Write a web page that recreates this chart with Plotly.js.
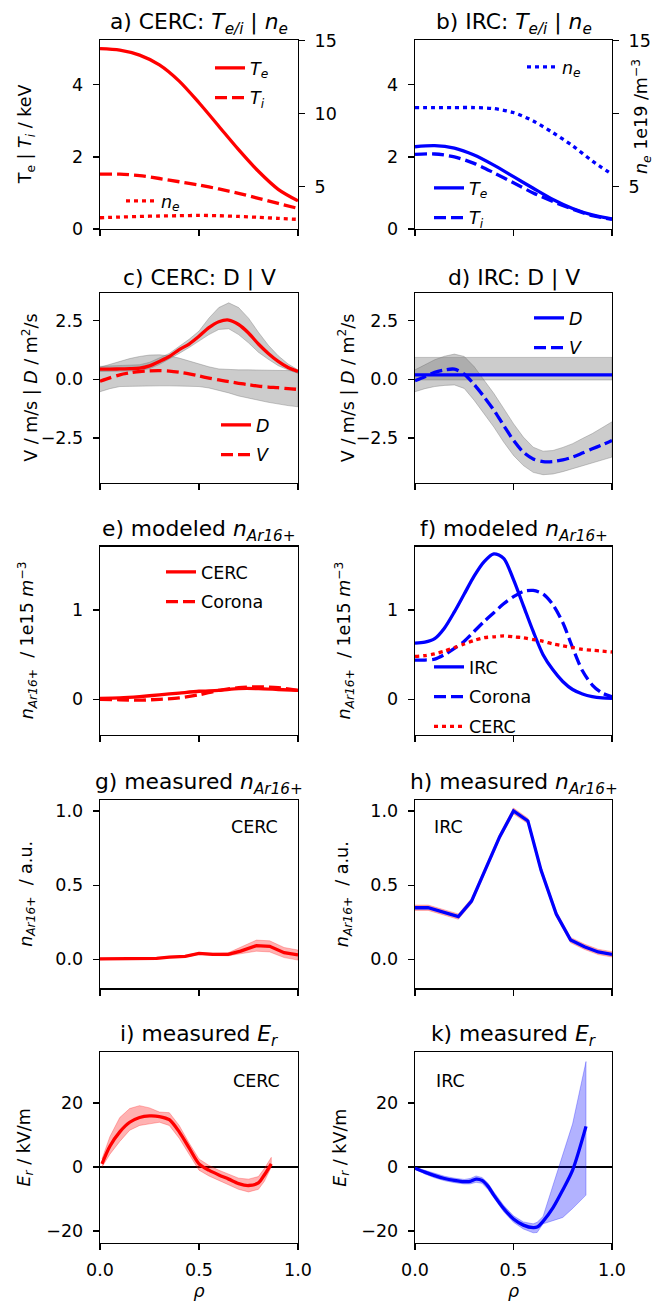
<!DOCTYPE html>
<html>
<head>
<meta charset="utf-8">
<script src="https://cdn.plot.ly/plotly-3.0.1.min.js"></script>
<style>html,body{margin:0;padding:0;background:#fff;}#plot{width:656px;height:1301px;}</style>
</head>
<body>
<div id="plot"></div>
<script>
// ---------------- data ----------------
const rhoA = [0,0.1,0.2,0.3,0.4,0.5,0.6,0.7,0.8,0.9,1.0];
const teCERC = [5.0,4.96,4.82,4.55,4.1,3.5,2.85,2.2,1.6,1.1,0.78];
const tiCERC = [1.52,1.52,1.48,1.40,1.31,1.22,1.11,0.99,0.85,0.71,0.57];
const neCERC = [2.87,2.92,2.96,2.99,3.01,3.03,3.01,2.96,2.90,2.83,2.76];
const teIRC = [2.28,2.31,2.24,2.05,1.77,1.45,1.13,0.82,0.57,0.39,0.28];
const tiIRC = [2.07,2.08,2.0,1.82,1.56,1.28,1.0,0.76,0.55,0.37,0.27];
const neIRC = [10.42,10.42,10.42,10.42,10.35,10.08,9.5,8.7,7.8,6.76,5.85];

const rhoDV = [0,0.05,0.1,0.15,0.2,0.25,0.3,0.35,0.4,0.45,0.5,0.55,0.6,0.65,0.7,0.75,0.8,0.85,0.9,0.95,1.0];
const dCERC   = [0.43,0.43,0.44,0.45,0.47,0.57,0.76,0.97,1.26,1.5,1.83,2.2,2.45,2.52,2.33,1.97,1.5,1.1,0.76,0.5,0.33];
const dCERCup = [0.55,0.56,0.58,0.6,0.62,0.72,0.9,1.1,1.4,1.7,2.05,2.6,3.05,3.25,3.05,2.6,2.0,1.45,1.0,0.65,0.4];
const dCERClo = [0.33,0.33,0.34,0.35,0.37,0.45,0.63,0.85,1.1,1.35,1.62,1.9,2.12,2.15,1.9,1.55,1.15,0.85,0.58,0.4,0.25];
const vCERC   = [-0.08,0.06,0.19,0.27,0.33,0.36,0.37,0.35,0.3,0.23,0.14,0.05,-0.03,-0.1,-0.17,-0.23,-0.29,-0.33,-0.36,-0.4,-0.43];
const vCERCup = [0.51,0.64,0.76,0.88,0.97,1.03,1.04,1.0,0.9,0.77,0.64,0.53,0.44,0.41,0.4,0.4,0.4,0.39,0.38,0.37,0.36];
const vCERClo = [-0.53,-0.4,-0.31,-0.29,-0.28,-0.28,-0.28,-0.28,-0.28,-0.29,-0.31,-0.37,-0.46,-0.58,-0.71,-0.8,-0.89,-0.98,-1.06,-1.12,-1.17];
const rhoDconst = [0,1];
const dIRC   = [0.19,0.19];
const dIRCup = [0.93,0.93];
const dIRClo = [-0.03,-0.03];
const vIRC   = [-0.06,0.11,0.3,0.4,0.43,0.22,-0.22,-0.74,-1.31,-1.96,-2.6,-3.1,-3.39,-3.5,-3.5,-3.43,-3.31,-3.14,-2.96,-2.79,-2.6];
const vIRCup = [0.4,0.62,0.83,0.98,1.07,0.97,0.54,-0.03,-0.6,-1.24,-1.89,-2.46,-2.89,-3.06,-3.03,-2.9,-2.74,-2.52,-2.31,-2.06,-1.81];
const vIRClo = [-0.53,-0.4,-0.31,-0.26,-0.24,-0.39,-0.89,-1.46,-2.03,-2.67,-3.24,-3.67,-3.96,-4.06,-4.03,-3.93,-3.81,-3.69,-3.57,-3.44,-3.31];

const modCERC_e   = [0.01,0.015,0.03,0.05,0.07,0.09,0.1,0.12,0.12,0.11,0.1];
const modCorona_e = [0.0,-0.005,-0.01,0.0,0.015,0.05,0.1,0.13,0.14,0.13,0.1];
const modIRC_f    = [0.63,0.64,0.68,0.8,0.98,1.18,1.38,1.54,1.63,1.58,1.34,1.05,0.76,0.5,0.33,0.2,0.11,0.06,0.03,0.015,0.01];
const modCorona_f = [0.44,0.44,0.45,0.5,0.57,0.65,0.76,0.87,0.97,1.07,1.15,1.21,1.22,1.18,1.06,0.86,0.58,0.32,0.16,0.07,0.03];
const modCERC_f   = [0.48,0.49,0.51,0.54,0.58,0.62,0.66,0.69,0.7,0.71,0.7,0.69,0.67,0.65,0.62,0.6,0.58,0.56,0.55,0.54,0.53];

const rhoMeasG = [0,0.067,0.134,0.2,0.286,0.35,0.43,0.5,0.57,0.647,0.71,0.79,0.857,0.93,1.0];
const measCERC   = [0.003,0.003,0.007,0.007,0.007,0.015,0.02,0.04,0.034,0.034,0.056,0.092,0.088,0.045,0.03];
const measCERCup = [0.008,0.008,0.012,0.012,0.012,0.02,0.026,0.046,0.042,0.044,0.08,0.13,0.125,0.08,0.063];
const measCERClo = [-0.002,-0.002,0.002,0.002,0.002,0.01,0.014,0.034,0.026,0.024,0.035,0.055,0.05,0.012,-0.005];
const rhoMeasH = [0,0.067,0.22,0.287,0.43,0.5,0.573,0.64,0.717,0.79,0.86,0.93,1.0];
const measIRC   = [0.348,0.348,0.288,0.393,0.827,1.0,0.933,0.6,0.306,0.13,0.085,0.05,0.034];
const measIRCup = [0.366,0.366,0.306,0.411,0.845,1.02,0.951,0.618,0.324,0.148,0.103,0.068,0.052];
const measIRClo = [0.330,0.330,0.270,0.375,0.809,0.98,0.915,0.582,0.288,0.112,0.067,0.032,0.016];

const rhoErC = [0.01,0.05,0.1,0.15,0.2,0.25,0.3,0.35,0.4,0.45,0.5,0.55,0.6,0.65,0.7,0.75,0.8,0.83,0.865];
const erCERC   = [1.0,6.5,11.0,14.0,15.5,16.0,15.8,14.8,11.0,6.0,1.0,-1.0,-2.5,-3.8,-5.2,-5.8,-5.0,-2.5,1.0];
const erCERCup = [2.5,9.5,15.5,18.3,19.2,18.5,17.2,17.0,13.0,7.5,2.5,0.5,-1.0,-2.3,-3.5,-3.8,-3.0,-0.5,3.0];
const erCERClo = [0.0,4.0,8.0,11.5,13.0,13.5,14.0,13.0,9.0,4.0,-1.0,-2.8,-4.2,-5.5,-7.0,-7.8,-7.0,-4.5,0.0];
const rhoErI = [0,0.05,0.1,0.15,0.2,0.25,0.28,0.31,0.34,0.37,0.4,0.45,0.5,0.55,0.6,0.62,0.65,0.7,0.75,0.8,0.868];
const erIRC   = [-0.4,-1.6,-2.7,-3.6,-4.2,-4.6,-4.5,-3.8,-4.2,-6.0,-8.8,-13.0,-16.3,-18.2,-19.0,-18.8,-17.0,-12.8,-7.2,-1.0,12.7];
const erIRCup = [-0.1,-1.0,-2.0,-2.9,-3.5,-3.9,-3.6,-2.8,-3.3,-5.0,-7.8,-12.0,-15.3,-17.2,-17.8,-17.3,-15.5,-6.0,3.5,13.5,33.0];
const erIRClo = [-0.7,-2.2,-3.4,-4.3,-4.9,-5.3,-5.3,-4.8,-5.1,-7.0,-9.8,-14.0,-17.3,-19.4,-20.6,-20.5,-17.8,-16.8,-15.8,-13.0,-8.8];

const xTickVals = [0,0.5,1];
const xTickText = ['0.0','0.5','1.0'];
const yTickVals = [[0,2,4],[-2.5,0,2.5],[0,1],[0,0.5,1],[-20,0,20]];
const yTickText = [['0','2','4'],['\u22122.5','0.0','2.5'],['0','1'],['0.0','0.5','1.0'],['\u221220','0','20']];
const neTickVals = [5,10,15];
const neTickTextA = ['5','10','15'];
const neTickTextB = ['5','','15'];

const titles = [
 'a) CERC: <i>T<sub>e/i</sub></i> | <i>n<sub>e</sub></i>',
 'b) IRC: <i>T<sub>e/i</sub></i> | <i>n<sub>e</sub></i>',
 'c) CERC: D | V','d) IRC: D | V',
 'e) modeled <i>n<sub>Ar16+</sub></i>','f) modeled <i>n<sub>Ar16+</sub></i>',
 'g) measured <i>n<sub>Ar16+</sub></i>','h) measured <i>n<sub>Ar16+</sub></i>',
 'i) measured <i>E<sub>r</sub></i>','k) measured <i>E<sub>r</sub></i>'];
const yLabels = [
 'T<sub>e</sub> | <i>T<sub>i</sub></i> / keV', null,
 'V / m/s | <i>D</i> / m<sup>2</sup>/s','V / m/s | <i>D</i> / m<sup>2</sup>/s',
 '<i>n<sub>Ar16+</sub></i>  / 1e15 <i>m</i><sup>\u22123</sup>','<i>n<sub>Ar16+</sub></i>  / 1e15 <i>m</i><sup>\u22123</sup>',
 '<i>n<sub>Ar16+</sub></i>  / a.u.','<i>n<sub>Ar16+</sub></i>  / a.u.',
 '<i>E<sub>r</sub></i> / kV/m','<i>E<sub>r</sub></i> / kV/m'];
const neLabel = '<i>n<sub>e</sub></i> 1e19 /m<sup>\u22123</sup>';

// ---------------- geometry ----------------
const W = 656, H = 1301;
const FONT = 'DejaVu Sans';
const FS = 17.5;
const px = v => v / W, py = v => 1 - v / H;
const colX = [[100, 298], [415, 612]];
const rowY = [[40, 229], [293, 482.7], [546.7, 735], [800, 988.3], [1052.3, 1242.7]];
const yRanges = [[0, 5.24], [-4.4, 3.67], [-0.4, 1.71], [-0.195, 1.074], [-23.7, 35.9]];
const yLabelX = [26.7, null, 30, 346.3, 27.5, 344.7, 26.7, 343, 25, 341.3];

const RED = '#ff0000', BLUE = '#0000ff';
const LW = 3.3;
const DASH = '12px,5px';
const DOT = '4px,4px';

const layout = {
  width: W, height: H, margin: {l: 0, r: 0, t: 0, b: 0},
  paper_bgcolor: '#fff', plot_bgcolor: 'rgba(0,0,0,0)',
  font: {family: FONT, size: FS, color: '#000'},
  showlegend: true,
  annotations: []
};

for (let i = 0; i < 10; i++) {
  const r = Math.floor(i / 2), c = i % 2;
  const xn = i === 0 ? 'xaxis' : 'xaxis' + (i + 1);
  const yn = i === 0 ? 'yaxis' : 'yaxis' + (i + 1);
  const xid = i === 0 ? 'x' : 'x' + (i + 1);
  const yid = i === 0 ? 'y' : 'y' + (i + 1);
  layout[xn] = {
    domain: [px(colX[c][0]), px(colX[c][1])], anchor: yid, range: [0, 1],
    tickmode: 'array', tickvals: xTickVals, ticktext: xTickText,
    showticklabels: r === 4, ticks: 'outside', ticklen: 6, tickwidth: 1.3, tickcolor: '#000',
    ticklabelstandoff: 5,
    showline: true, mirror: true, linecolor: '#000', linewidth: 1.3,
    showgrid: false, zeroline: false, fixedrange: true,
    tickfont: {family: FONT, size: FS, color: '#000'}
  };
  if (r === 4) layout[xn].title = {text: '<i>ρ</i>', font: {family: FONT, size: FS}, standoff: 6};
  layout[yn] = {
    domain: [py(rowY[r][1]), py(rowY[r][0])], anchor: xid, range: yRanges[r],
    tickmode: 'array', tickvals: yTickVals[r], ticktext: yTickText[r],
    ticks: 'outside', ticklen: 6, tickwidth: 1.3, tickcolor: '#000',
    ticklabelstandoff: 6,
    showline: true, mirror: true, linecolor: '#000', linewidth: 1.3,
    showgrid: false, zeroline: r === 4, zerolinecolor: '#000', zerolinewidth: 2.6,
    fixedrange: true, tickfont: {family: FONT, size: FS, color: '#000'}
  };
  // subplot title
  layout.annotations.push({
    text: titles[i], xref: 'paper', yref: 'paper',
    x: px((colX[c][0] + colX[c][1]) / 2), y: py(rowY[r][0]),
    xanchor: 'center', yanchor: 'bottom', yshift: 0, showarrow: false,
    font: {family: FONT, size: 21.8, color: '#000'}
  });
  if (yLabels[i]) {
    layout.annotations.push({
      text: yLabels[i], xref: 'paper', yref: 'paper',
      x: px(yLabelX[i]), y: py((rowY[r][0] + rowY[r][1]) / 2),
      xanchor: 'center', yanchor: 'middle', textangle: -90, showarrow: false,
      font: {family: FONT, size: FS, color: '#000'}
    });
  }
}
// twin density axes
['yaxis11', 'yaxis12'].forEach((nm, k) => {
  layout[nm] = {
    overlaying: k === 0 ? 'y' : 'y2', anchor: k === 0 ? 'x' : 'x2', side: 'right',
    range: [2.1, 15.05], tickmode: 'array', tickvals: neTickVals,
    ticktext: k === 0 ? neTickTextA : neTickTextB,
    ticks: 'outside', ticklen: 6, tickwidth: 1.3, tickcolor: '#000',
    ticklabelstandoff: 6,
    showline: false, showgrid: false, zeroline: false, fixedrange: true,
    tickfont: {family: FONT, size: FS, color: '#000'}
  };
});
layout.annotations.push({
  text: neLabel, xref: 'paper', yref: 'paper', x: px(641.5), y: py(116.5),
  xanchor: 'center', yanchor: 'middle', textangle: -90, showarrow: false,
  font: {family: FONT, size: FS, color: '#000'}
});
// in-panel labels
[['CERC', 254, 826.7], ['IRC', 448, 826.7], ['CERC', 256.7, 1081], ['IRC', 450, 1081]].forEach(t => {
  layout.annotations.push({
    text: t[0], xref: 'paper', yref: 'paper', x: px(t[1]), y: py(t[2]),
    xanchor: 'center', yanchor: 'middle', showarrow: false,
    font: {family: FONT, size: FS, color: '#000'}
  });
});

// legends
const legPos = {
  legend: [210, 50], legend2: [121, 183], legend3: [522, 49], legend4: [429, 170],
  legend5: [216, 407], legend6: [529, 300], legend7: [161, 554], legend8: [429, 649]
};
Object.keys(legPos).forEach(k => {
  layout[k] = {
    x: px(legPos[k][0]), y: py(legPos[k][1]), xref: 'paper', yref: 'paper',
    xanchor: 'left', yanchor: 'top', bgcolor: 'rgba(0,0,0,0)', borderwidth: 0,
    font: {family: FONT, size: FS, color: '#000'}, traceorder: 'grouped', tracegroupgap: 4,
    itemclick: false, itemdoubleclick: false
  };
});

// ---------------- traces ----------------
const traces = [];
function line(x, y, xa, ya, color, dash, name, leg, shape) {
  traces.push({
    type: 'scatter', mode: 'lines', x: x, y: y, xaxis: xa, yaxis: ya,
    line: {color: color, width: LW, dash: dash || 'solid', shape: shape || 'spline', smoothing: 0.8},
    name: name || '', showlegend: !!name, legend: leg || 'legend', legendgroup: (leg || 'legend') + name,
    hoverinfo: 'skip'
  });
}
function band(x, lo, hi, xa, ya, fill, edge) {
  traces.push({
    type: 'scatter', mode: 'lines', x: x.concat(x.slice().reverse()), y: hi.concat(lo.slice().reverse()),
    xaxis: xa, yaxis: ya, fill: 'toself', fillcolor: fill,
    line: {color: edge, width: 0.8}, showlegend: false, hoverinfo: 'skip'
  });
}
// a
line(rhoA, teCERC, 'x', 'y', RED, 'solid', '<i>T<sub>e</sub></i>', 'legend');
line(rhoA, tiCERC, 'x', 'y', RED, DASH, '<i>T<sub>i</sub></i>', 'legend');
line(rhoA, neCERC, 'x', 'y11', RED, DOT, '<i>n<sub>e</sub></i>', 'legend2');
// b
line(rhoA, teIRC, 'x2', 'y2', BLUE, 'solid', '<i>T<sub>e</sub></i>', 'legend4');
line(rhoA, tiIRC, 'x2', 'y2', BLUE, DASH, '<i>T<sub>i</sub></i>', 'legend4');
line(rhoA, neIRC, 'x2', 'y12', BLUE, DOT, '<i>n<sub>e</sub></i>', 'legend3');
// c
const GF = 'rgba(128,128,128,0.4)', GE = 'rgba(110,110,110,0.45)';
band(rhoDV, dCERClo, dCERCup, 'x3', 'y3', GF, GE);
band(rhoDV, vCERClo, vCERCup, 'x3', 'y3', GF, GE);
line(rhoDV, dCERC, 'x3', 'y3', RED, 'solid', '<i>D</i>', 'legend5');
line(rhoDV, vCERC, 'x3', 'y3', RED, DASH, '<i>V</i>', 'legend5');
// d
band(rhoDconst, dIRClo, dIRCup, 'x4', 'y4', GF, GE);
band(rhoDV, vIRClo, vIRCup, 'x4', 'y4', GF, GE);
line(rhoDconst, dIRC, 'x4', 'y4', BLUE, 'solid', '<i>D</i>', 'legend6', 'linear');
line(rhoDV, vIRC, 'x4', 'y4', BLUE, DASH, '<i>V</i>', 'legend6');
// e
line(rhoA, modCERC_e, 'x5', 'y5', RED, 'solid', 'CERC', 'legend7');
line(rhoA, modCorona_e, 'x5', 'y5', RED, DASH, 'Corona', 'legend7');
// f
line(rhoDV, modIRC_f, 'x6', 'y6', BLUE, 'solid', 'IRC', 'legend8');
line(rhoDV, modCorona_f, 'x6', 'y6', BLUE, DASH, 'Corona', 'legend8');
line(rhoDV, modCERC_f, 'x6', 'y6', RED, DOT, 'CERC', 'legend8');
// g
band(rhoMeasG, measCERClo, measCERCup, 'x7', 'y7', 'rgba(255,0,0,0.3)', 'rgba(255,0,0,0.3)');
line(rhoMeasG, measCERC, 'x7', 'y7', RED, 'solid', '', null, 'linear');
// h
band(rhoMeasH, measIRClo, measIRCup, 'x8', 'y8', 'rgba(255,0,0,0.3)', 'rgba(255,0,0,0.3)');
line(rhoMeasH, measIRC, 'x8', 'y8', BLUE, 'solid', '', null, 'linear');
// i
band(rhoErC, erCERClo, erCERCup, 'x9', 'y9', 'rgba(255,0,0,0.3)', 'rgba(255,0,0,0.35)');
line(rhoErC, erCERC, 'x9', 'y9', RED, 'solid', '', null);
// k
band(rhoErI, erIRClo, erIRCup, 'x10', 'y10', 'rgba(0,0,255,0.3)', 'rgba(0,0,255,0.35)');
line(rhoErI, erIRC, 'x10', 'y10', BLUE, 'solid', '', null);

Plotly.newPlot('plot', traces, layout, {staticPlot: true, displayModeBar: false});
</script>
</body>
</html>
